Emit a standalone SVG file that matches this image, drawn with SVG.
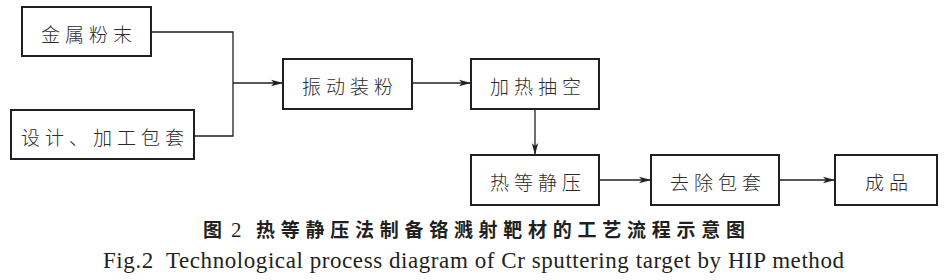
<svg xmlns="http://www.w3.org/2000/svg" width="951" height="280" viewBox="0 0 951 280">
<style>
.box{fill:#fff;stroke:#231f20;stroke-width:2}
.lbl{font-family:"Noto Sans CJK SC","Noto Sans CJK JP",sans-serif;font-size:19px;font-weight:300;fill:#2b2b2b;letter-spacing:5px;text-anchor:middle;dominant-baseline:central}
.ln{fill:none;stroke:#231f20;stroke-width:1.3}
.cap1{font-family:"Noto Sans CJK SC",sans-serif;font-size:19px;font-weight:700;fill:#231f20}
.cap2{font-family:"Liberation Serif","Times New Roman",serif;font-size:23px;fill:#231f20}
</style>
<defs>
<marker id="ah" viewBox="0 0 12 8" refX="12" refY="4" markerWidth="12" markerHeight="8" markerUnits="userSpaceOnUse" orient="auto">
<path d="M0,0.8 L12,4 L0,7.2 L3,4 Z" fill="#231f20"/>
</marker>
</defs>
<g id="connectors">
<polyline class="ln" points="151,32 233,32 233,136 194,136"/>
<line class="ln" x1="233" y1="83" x2="283" y2="83" marker-end="url(#ah)"/>
<line class="ln" x1="412" y1="83" x2="471" y2="83" marker-end="url(#ah)"/>
<line class="ln" x1="535" y1="109" x2="535" y2="155" marker-end="url(#ah)"/>
<line class="ln" x1="599" y1="180" x2="651" y2="180" marker-end="url(#ah)"/>
<line class="ln" x1="779" y1="180" x2="835" y2="180" marker-end="url(#ah)"/>
</g>
<g id="n1"><rect class="box" x="22" y="7" width="129" height="49"/><text class="lbl" x="89" y="33">金属粉末</text></g>
<g id="n2"><rect class="box" x="11" y="110" width="183" height="49"/><text class="lbl" x="105" y="136">设计、加工包套</text></g>
<g id="n3"><rect class="box" x="283" y="59" width="129" height="50"/><text class="lbl" x="350" y="85">振动装粉</text></g>
<g id="n4"><rect class="box" x="471" y="59" width="128" height="50"/><text class="lbl" x="538" y="85">加热抽空</text></g>
<g id="n5"><rect class="box" x="471" y="155" width="128" height="50"/><text class="lbl" x="538" y="181">热等静压</text></g>
<g id="n6"><rect class="box" x="651" y="155" width="128" height="50"/><text class="lbl" x="718" y="181">去除包套</text></g>
<g id="n7"><rect class="box" x="835" y="155" width="102" height="50"/><text class="lbl" x="889" y="181">成品</text></g>
<text class="cap1" x="203" y="237">图<tspan font-family="Liberation Serif,serif" font-weight="400" font-size="21" x="231">2</tspan><tspan x="256" textLength="489" lengthAdjust="spacing">热等静压法制备铬溅射靶材的工艺流程示意图</tspan></text>
<text class="cap2" x="103" y="268" textLength="741" lengthAdjust="spacing">Fig.2&#160; Technological process diagram of Cr sputtering target by HIP method</text>
</svg>
